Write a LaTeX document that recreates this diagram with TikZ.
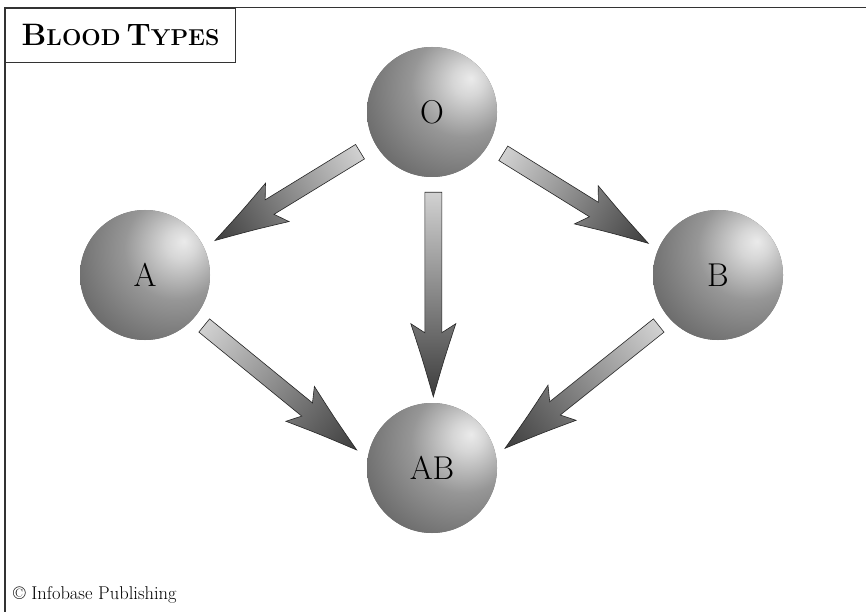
\documentclass[tikz,border=0pt]{standalone}
\usepackage{fontspec}
\pgfdeclareradialshading{sphereshade}{\pgfpoint{15bp}{13bp}}{color(0bp)=(black!8); color(6bp)=(black!16); color(20bp)=(black!41); color(38bp)=(black!58); color(55bp)=(black!68); color(100bp)=(black!76)}
\newcommand\blockarrow[2]{%
  \pgfpointanchor{#1}{center}\pgfgetlastxy{\baxa}{\baya}%
  \pgfpointanchor{#2}{center}\pgfgetlastxy{\baxb}{\bayb}%
  \pgfmathsetmacro\baang{atan2(\bayb-\baya,\baxb-\baxa)}%
  \pgfmathsetmacro\balen{veclen(\baxb-\baxa,\bayb-\baya)}%
  \begin{scope}[x=1pt,y=1pt,transform canvas={shift={(#1)},rotate=\baang}]
    \path[arrowbody] (0,-8.5) -- ({\balen-64},-8.5) -- ({\balen-73},-22.5)
      .. controls ({\balen-38},-11) .. (\balen,0)
      .. controls ({\balen-38},11) .. ({\balen-73},22.5) -- ({\balen-64},8.5) -- (0,8.5) -- cycle;
  \end{scope}}
\tikzset{
  sphere/.style={circle, minimum size=130pt, inner sep=0pt, preaction={fill=black!58}, shading=sphereshade, font=\fontsize{33}{33}\selectfont},
  arrowbody/.style={left color=black!18, right color=black!76, draw=black!85, line width=0.6pt, line join=miter},
  frameline/.style={line width=1.2pt, draw=black!80},
  titlebox/.style={draw=black!80, line width=1.2pt, minimum width=230pt, minimum height=54.5pt, anchor=north west, inner sep=0pt, font=\bfseries},
  credit/.style={anchor=base west, inner sep=0pt, font=\fontsize{18.5}{18.5}\selectfont}
}
\begin{document}
\begin{tikzpicture}[x=1pt,y=-1pt]
\useasboundingbox (0,0) rectangle (866,612);
\fill[white] (0,0) rectangle (866,612);
\coordinate (fa) at (5,612);
\coordinate (fb) at (5,7.5);
\coordinate (fc) at (866,7.5);
\draw[frameline] (fa) -- (fb) -- (fc);
\node[titlebox] (title) at (5,7.5) {{\fontsize{31}{31}\selectfont B}{\fontsize{23}{23}\selectfont LOOD}\hspace{0.6em}{\fontsize{31}{31}\selectfont T}{\fontsize{23}{23}\selectfont YPES}};
\node[sphere] (O) at (432,112) {O};
\node[sphere] (A) at (145,275) {A};
\node[sphere] (B) at (718,275) {B};
\node[sphere] (AB) at (432,468) {AB};
\coordinate (oa1) at (360,151.7);
\coordinate (oa2) at (215,240.5);
\coordinate (oab1) at (433.3,192.3);
\coordinate (oab2) at (433.3,396.7);
\coordinate (ob1) at (503.3,153.3);
\coordinate (ob2) at (648.3,243.3);
\coordinate (aab1) at (204.2,325.5);
\coordinate (aab2) at (356.7,450);
\coordinate (bab1) at (658.7,325.5);
\coordinate (bab2) at (505,448.3);
\blockarrow{oa1}{oa2}
\blockarrow{oab1}{oab2}
\blockarrow{ob1}{ob2}
\blockarrow{aab1}{aab2}
\blockarrow{bab1}{bab2}
\node[credit] (copy) at (13,599.5) {\textcopyright\ Infobase Publishing};
\end{tikzpicture}
\end{document}
